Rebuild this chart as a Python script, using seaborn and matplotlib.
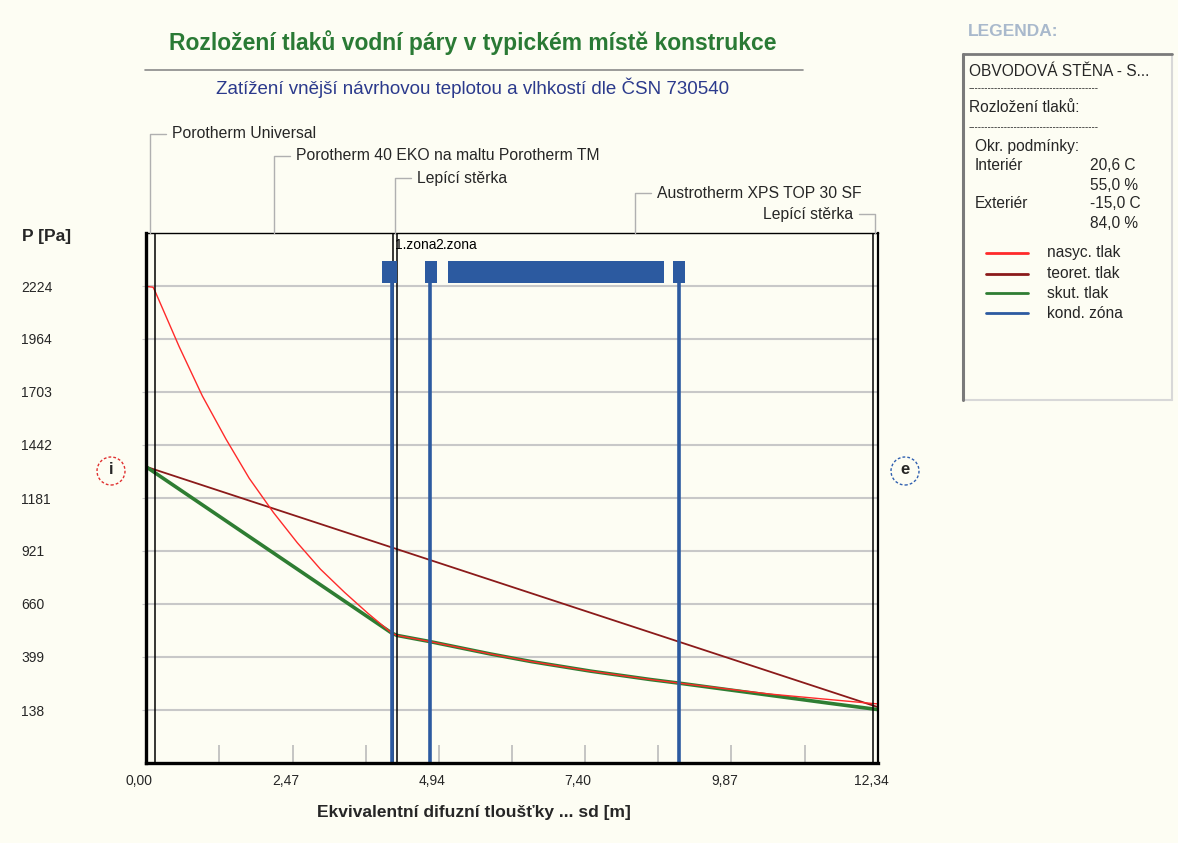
import numpy as np
import pandas as pd
import matplotlib
matplotlib.use("Agg")
import matplotlib.pyplot as plt
import seaborn as sns
from matplotlib.lines import Line2D
from matplotlib.patches import Ellipse, Rectangle
import matplotlib.transforms as mtransforms

# ---------------- data ----------------
sd_sat = [0.00, 0.12, 0.15, 0.56, 0.95, 1.35, 1.74, 2.15, 2.55, 2.94, 3.35, 3.74, 4.14, 4.23,
          4.78, 5.80, 6.50, 7.50, 8.50, 8.99, 9.50, 10.50, 11.50, 12.25, 12.34]
p_sat = [2222, 2218, 2200, 1925, 1683, 1470, 1278, 1109, 961, 831, 716, 614, 517, 505,
         475, 414, 376, 329, 288, 270, 252, 217, 190, 170, 168]

sd_act = [0.00, 4.14, 4.23, 4.78, 5.80, 6.50, 7.50, 8.50, 8.99, 10.50, 11.50, 12.34]
p_act = [1335, 517, 505, 475, 414, 376, 329, 288, 270, 211, 172, 140]

sd_theor = [0.00, 12.34]
p_theor = [1335, 152]

layer_names = ["Porotherm Universal", "Porotherm 40 EKO na maltu Porotherm TM",
               "Lepící stěrka", "Austrotherm XPS TOP 30 SF", "Lepící stěrka"]
layer_bounds = [0.00, 0.15, 4.16, 4.23, 12.25, 12.34]

zone_starts = [3.98, 4.70, 5.09, 8.89]
zone_ends = [4.23, 4.90, 8.74, 9.09]
zone_lines = [4.14, 4.78, 8.99]
zone_labels = ["1.zona", "2.zona"]
zone_label_sd = [4.19, 4.88]

y_ticks = [138, 399, 660, 921, 1181, 1442, 1703, 1964, 2224]
x_ticks = [0.00, 2.47, 4.94, 7.40, 9.87, 12.34]
x_tick_labels = ["0,00", "2,47", "4,94", "7,40", "9,87", "12,34"]

legend_names = ["nasyc. tlak", "teoret. tlak", "skut. tlak", "kond. zóna"]

# ---------------- style ----------------
BG = "#FDFDF3"
C_RED = "#FF2a2a"
C_BROWN = "#8B1A1A"
C_GREEN = "#2E7D32"
C_BLUE = "#2C5AA0"

sns.set_style("white")
plt.rcParams["font.family"] = ["Liberation Sans", "DejaVu Sans"]

W, H = 1178, 843
fig = plt.figure(figsize=(W / 100, H / 100), dpi=100, facecolor=BG)

def fx(px):
    return px / W

def fy(py):
    return 1 - py / H

ax_l, ax_r, ax_t, ax_b = 146, 878, 233, 763
ax = fig.add_axes([fx(ax_l), fy(ax_b), fx(ax_r - ax_l), (ax_b - ax_t) / H])
ax.set_facecolor(BG)

df_sat = pd.DataFrame({"sd": sd_sat, "p": p_sat})
df_act = pd.DataFrame({"sd": sd_act, "p": p_act})
df_th = pd.DataFrame({"sd": sd_theor, "p": p_theor})

sns.lineplot(data=df_th, x="sd", y="p", ax=ax, color=C_BROWN, lw=1.3, sort=False, estimator=None, zorder=4)
sns.lineplot(data=df_sat, x="sd", y="p", ax=ax, color=C_RED, lw=1.0, sort=False, estimator=None, zorder=5)
sns.lineplot(data=df_act, x="sd", y="p", ax=ax, color=C_GREEN, lw=2.6, sort=False, estimator=None, zorder=4)

ax.set_xlim(0, 12.34)
ax.set_ylim(-122.75, 2484.75)

# layer boundaries
for b in layer_bounds[1:-1]:
    ax.axvline(b, color="black", lw=1.1, zorder=6)

# condensation zones
bar_lo, bar_hi = (ax_b - 283) / (ax_b - ax_t), (ax_b - 261) / (ax_b - ax_t)
for s, e in zip(zone_starts, zone_ends):
    ax.axvspan(s, e, ymin=bar_lo, ymax=bar_hi, color=C_BLUE, lw=0, zorder=7)
for z in zone_lines:
    ax.axvline(z, ymin=0, ymax=bar_lo + 0.01, color=C_BLUE, lw=2.6, zorder=6)
for lab, zx in zip(zone_labels, zone_label_sd):
    ax.text(zx, 1 - (245 - ax_t) / (ax_b - ax_t), lab, transform=ax.get_xaxis_transform(),
            fontsize=10, va="center", ha="left", color="black", zorder=8)

# grid & ticks
ax.set_yticks(y_ticks)
ax.set_yticklabels([str(v) for v in y_ticks])
ax.grid(axis="y", color="#C8C8C8", lw=1.5, zorder=0)
ax.grid(axis="x", visible=False)
ax.tick_params(axis="y", which="major", direction="out", length=3, color="#C8C8C8",
               pad=87, labelsize=10, left=True)
plt.setp(ax.get_yticklabels(), ha="left")

ax.set_xticks(x_ticks)
ax.set_xticklabels(x_tick_labels)
ax.set_xticks([1.234 * k for k in range(1, 10, 2)], minor=True)
ax.tick_params(axis="x", which="both", direction="in", length=13, width=1.2, color="#BBBBBB",
               pad=8, labelsize=10, bottom=True)
off = mtransforms.ScaledTranslation(-7 / 100, 0, fig.dpi_scale_trans)
for lbl in ax.get_xticklabels():
    lbl.set_transform(lbl.get_transform() + off)
ax.set_xlabel("")
ax.set_ylabel("")

for side, lw in [("left", 2.4), ("bottom", 2.4), ("top", 1.0), ("right", 1.6)]:
    ax.spines[side].set_visible(True)
    ax.spines[side].set_color("black")
    ax.spines[side].set_linewidth(lw)
    ax.spines[side].set_zorder(9)

# ---------------- texts ----------------
fig.text(fx(473), fy(43), "Rozložení tlaků vodní páry v typickém místě konstrukce",
         ha="center", va="center", fontsize=16.5, fontweight="bold", color="#2A7A35")
fig.add_artist(Line2D([fx(145), fx(803)], [fy(70), fy(70)], color="#8A8A8A", lw=1.2))
fig.text(fx(473), fy(88), "Zatížení vnější návrhovou teplotou a vlhkostí dle ČSN 730540",
         ha="center", va="center", fontsize=13.5, color="#2B3A8C")

fig.text(fx(22), fy(237), "P [Pa]", ha="left", va="center", fontsize=12.5, fontweight="bold")
fig.text(fx(474), fy(813), "Ekvivalentní difuzní tloušťky ... sd [m]", ha="center", va="center",
         fontsize=12.5, fontweight="bold")

# layer labels with leader lines
fig.canvas.draw()
label_y = [134, 156, 178, 193, 214]
leader_col = "#B0B0B0"
for i, name in enumerate(layer_names):
    mid = 0.5 * (layer_bounds[i] + layer_bounds[i + 1])
    mid_px = ax.transData.transform((mid, 0))[0] * 100 / fig.dpi
    ly = label_y[i]
    if i < len(layer_names) - 1:
        fig.add_artist(Line2D([fx(mid_px), fx(mid_px), fx(mid_px + 16)],
                              [fy(ax_t), fy(ly), fy(ly)], color=leader_col, lw=1.0))
        fig.text(fx(mid_px + 22), fy(ly), name, ha="left", va="center", fontsize=11.3)
    else:
        fig.add_artist(Line2D([fx(mid_px), fx(mid_px), fx(mid_px - 16)],
                              [fy(ax_t), fy(ly), fy(ly)], color=leader_col, lw=1.0))
        fig.text(fx(mid_px - 22), fy(ly), name, ha="right", va="center", fontsize=11.3)

# i / e markers
for cx, col, t in [(111, "#E03030", "i"), (905, "#3060B0", "e")]:
    fig.add_artist(Ellipse((fx(cx), fy(471)), 28 / W, 28 / H, transform=fig.transFigure,
                           fill=False, ec=col, lw=1.0, ls=(0, (2, 1.5))))
    fig.text(fx(cx), fy(470), t, ha="center", va="center", fontsize=12, fontweight="bold")

# ---------------- legend panel ----------------
fig.text(fx(968), fy(32), "LEGENDA:", ha="left", va="center", fontsize=12.5,
         fontweight="bold", color="#A9B9CC")
bx0, by0, bx1, by1 = 963, 54, 1172, 400
fig.add_artist(Line2D([fx(bx0), fx(bx1)], [fy(by1), fy(by1)], color="#D8D8D8", lw=1.5))
fig.add_artist(Line2D([fx(bx1), fx(bx1)], [fy(by0), fy(by1)], color="#D8D8D8", lw=1.5))
fig.add_artist(Line2D([fx(bx0), fx(bx1)], [fy(by0), fy(by0)], color="#7A7A7A", lw=2))
fig.add_artist(Line2D([fx(bx0), fx(bx0)], [fy(by0), fy(by1)], color="#7A7A7A", lw=2.2))

fs = 11.2
fig.text(fx(969), fy(72), "OBVODOVÁ STĚNA - S...", ha="left", va="center", fontsize=fs)
fig.text(fx(969), fy(88), "-" * 40, ha="left", va="center", fontsize=7)
fig.text(fx(969), fy(108), "Rozložení tlaků:", ha="left", va="center", fontsize=fs)
fig.text(fx(969), fy(127), "-" * 40, ha="left", va="center", fontsize=7)
fig.text(fx(975), fy(147), "Okr. podmínky:", ha="left", va="center", fontsize=fs)
fig.text(fx(975), fy(165), "Interiér", ha="left", va="center", fontsize=fs)
fig.text(fx(1090), fy(165), "20,6 C", ha="left", va="center", fontsize=fs)
fig.text(fx(1090), fy(185), "55,0 %", ha="left", va="center", fontsize=fs)
fig.text(fx(975), fy(204), "Exteriér", ha="left", va="center", fontsize=fs)
fig.text(fx(1090), fy(204), "-15,0 C", ha="left", va="center", fontsize=fs)
fig.text(fx(1090), fy(224), "84,0 %", ha="left", va="center", fontsize=fs)

leg_cols = [C_RED, C_BROWN, C_GREEN, C_BLUE]
leg_y = [253, 274, 293, 313]
for name, col, ly in zip(legend_names, leg_cols, leg_y):
    fig.add_artist(Line2D([fx(986), fx(1028)], [fy(ly), fy(ly)], color=col, lw=2))
    fig.text(fx(1047), fy(ly), name, ha="left", va="center", fontsize=fs)

fig.savefig("out.png", dpi=100, facecolor=BG)
